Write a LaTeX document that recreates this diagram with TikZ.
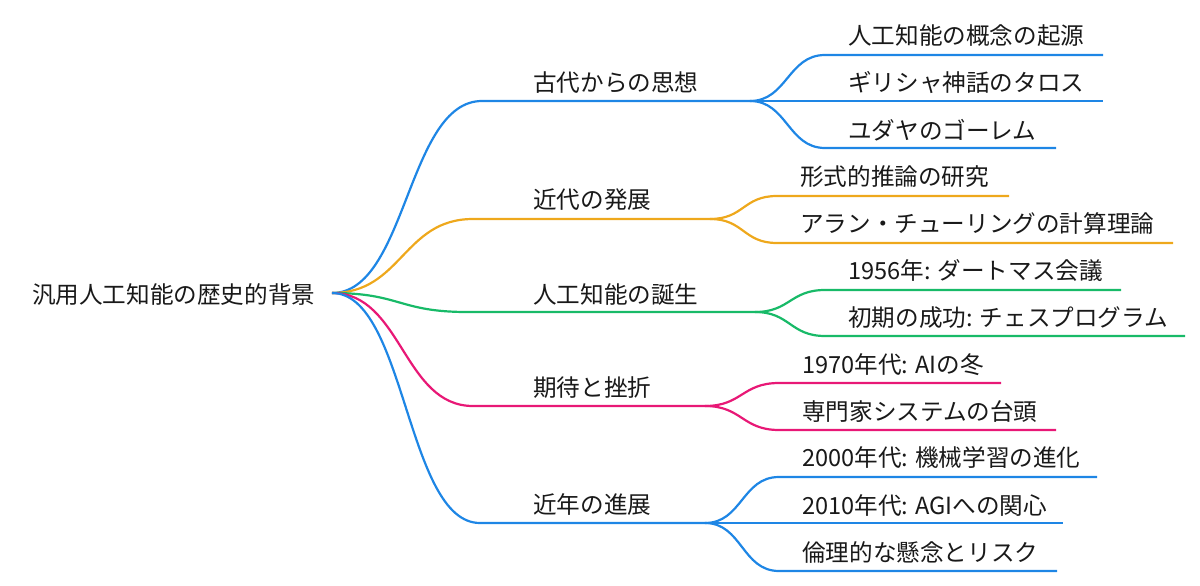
\documentclass[tikz,border=0pt]{standalone}
\usepackage{fontspec}
\setmainfont{Noto Sans CJK JP}
\definecolor{cblue}{RGB}{30,134,229}
\definecolor{corange}{RGB}{238,168,28}
\definecolor{cgreen}{RGB}{24,186,104}
\definecolor{cpink}{RGB}{232,24,118}
\begin{document}
\begin{tikzpicture}[x=1pt,y=-1pt,
  lbl/.style={anchor=west,inner sep=0pt,font=\fontsize{23.6}{28}\selectfont,text=black!90},
  wire/.style={line width=2.2pt}]
\useasboundingbox (0,0) rectangle (1200,586);
% root
\node[lbl] (root) at (32,295) {汎用人工知能の歴史的背景};
\coordinate (r) at (332,293);
% branch 1
\node[lbl] (b1) at (533,83) {古代からの思想};
\coordinate (b1l) at (482,101); \coordinate (b1r) at (750,101);
\draw[wire,cblue] (r) .. controls +(75,0) and +(-75,0) .. (b1l) -- (b1r);
\node[lbl] (l11) at (848,36) {人工知能の概念の起源};
\coordinate (l11l) at (825,55); \coordinate (l11r) at (1103,55);
\draw[wire,cblue] (b1r) .. controls +(37,0) and +(-37,0) .. (l11l) -- (l11r);
\node[lbl] (l12) at (848,83) {ギリシャ神話のタロス};
\coordinate (l12l) at (825,101); \coordinate (l12r) at (1103,101);
\draw[wire,cblue] (b1r) -- (l12l) -- (l12r);
\node[lbl] (l13) at (848,130) {ユダヤのゴーレム};
\coordinate (l13l) at (825,148); \coordinate (l13r) at (1056,148);
\draw[wire,cblue] (b1r) .. controls +(37,0) and +(-37,0) .. (l13l) -- (l13r);
% branch 2
\node[lbl] (b2) at (533,200) {近代の発展};
\coordinate (b2l) at (473,219); \coordinate (b2r) at (710,219);
\draw[wire,corange] (r) .. controls +(70,0) and +(-70,0) .. (b2l) -- (b2r);
\node[lbl] (l21) at (800,177) {形式的推論の研究};
\coordinate (l21l) at (777,196); \coordinate (l21r) at (1009,196);
\draw[wire,corange] (b2r) .. controls +(34,0) and +(-34,0) .. (l21l) -- (l21r);
\node[lbl] (l22) at (800,223) {アラン・チューリングの計算理論};
\coordinate (l22l) at (777,243); \coordinate (l22r) at (1173,243);
\draw[wire,corange] (b2r) .. controls +(34,0) and +(-34,0) .. (l22l) -- (l22r);
% branch 3
\node[lbl] (b3) at (533,295) {人工知能の誕生};
\coordinate (b3l) at (467,312); \coordinate (b3r) at (755,312);
\draw[wire,cgreen] (r) .. controls +(68,0) and +(-68,0) .. (b3l) -- (b3r);
\node[lbl] (l31) at (848,271) {1956年: ダートマス会議};
\coordinate (l31l) at (825,290); \coordinate (l31r) at (1121,290);
\draw[wire,cgreen] (b3r) .. controls +(35,0) and +(-35,0) .. (l31l) -- (l31r);
\node[lbl] (l32) at (848,318) {初期の成功: チェスプログラム};
\coordinate (l32l) at (825,336); \coordinate (l32r) at (1185,336);
\draw[wire,cgreen] (b3r) .. controls +(35,0) and +(-35,0) .. (l32l) -- (l32r);
% branch 4
\node[lbl] (b4) at (533,388) {期待と挫折};
\coordinate (b4l) at (473,406); \coordinate (b4r) at (705,406);
\draw[wire,cpink] (r) .. controls +(70,0) and +(-70,0) .. (b4l) -- (b4r);
\node[lbl] (l41) at (802,365) {1970年代: AIの冬};
\coordinate (l41l) at (779,383); \coordinate (l41r) at (1001,383);
\draw[wire,cpink] (b4r) .. controls +(37,0) and +(-37,0) .. (l41l) -- (l41r);
\node[lbl] (l42) at (802,412) {専門家システムの台頭};
\coordinate (l42l) at (779,430); \coordinate (l42r) at (1056,430);
\draw[wire,cpink] (b4r) .. controls +(37,0) and +(-37,0) .. (l42l) -- (l42r);
% branch 5
\node[lbl] (b5) at (533,505) {近年の進展};
\coordinate (b5l) at (480,523); \coordinate (b5r) at (705,523);
\draw[wire,cblue] (r) .. controls +(74,0) and +(-74,0) .. (b5l) -- (b5r);
\node[lbl] (l51) at (802,458) {2000年代: 機械学習の進化};
\coordinate (l51l) at (779,477); \coordinate (l51r) at (1097,477);
\draw[wire,cblue] (b5r) .. controls +(37,0) and +(-37,0) .. (l51l) -- (l51r);
\node[lbl] (l52) at (802,506) {2010年代: AGIへの関心};
\coordinate (l52l) at (779,523); \coordinate (l52r) at (1063,523);
\draw[wire,cblue] (b5r) -- (l52l) -- (l52r);
\node[lbl] (l53) at (802,552) {倫理的な懸念とリスク};
\coordinate (l53l) at (779,571); \coordinate (l53r) at (1057,571);
\draw[wire,cblue] (b5r) .. controls +(37,0) and +(-37,0) .. (l53l) -- (l53r);
\end{tikzpicture}
\end{document}
